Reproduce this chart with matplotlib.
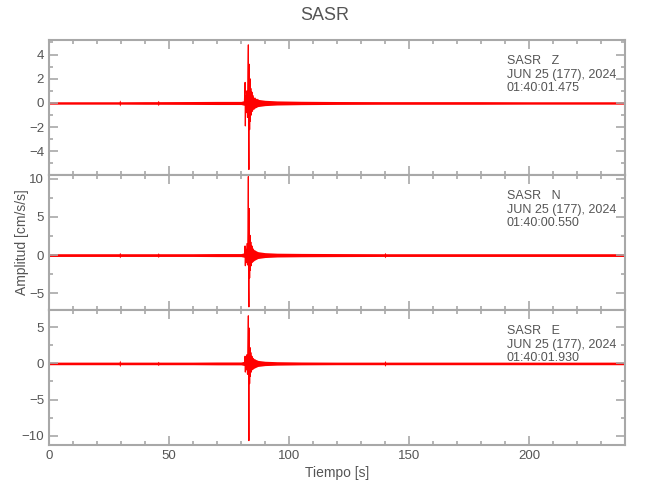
import numpy as np
import matplotlib
matplotlib.use("Agg")
import matplotlib.pyplot as plt
from matplotlib.ticker import MultipleLocator

plt.rcParams['font.family'] = ['Liberation Sans', 'DejaVu Sans']

station = "SASR"
components = ["Z", "N", "E"]
dates = ["JUN 25 (177), 2024"] * 3
start_times = ["01:40:01.475", "01:40:00.550", "01:40:01.930"]

# background noise half-width (cm/s/s)
t_env = [0, 10, 20, 29.2, 29.5, 29.8, 40, 45.2, 45.5, 45.8, 60, 70, 80, 81.5,
         82.5, 84, 85.5, 87, 90, 95, 105, 120, 139.7, 140, 140.3, 160, 180,
         200, 220, 240]
env_z = [0.1, 0.1, 0.1, 0.1, 0.25, 0.1, 0.11, 0.11, 0.22, 0.11, 0.12, 0.13,
         0.13, 0.2, 0.45, 0.7, 0.45, 0.3, 0.22, 0.17, 0.14, 0.12, 0.11, 0.11,
         0.11, 0.11, 0.11, 0.1, 0.1, 0.1]
env_n = [0.18, 0.18, 0.18, 0.18, 0.35, 0.18, 0.18, 0.18, 0.3, 0.18, 0.18,
         0.2, 0.2, 0.3, 0.7, 1.1, 0.7, 0.45, 0.32, 0.25, 0.22, 0.2, 0.18,
         0.35, 0.18, 0.18, 0.18, 0.18, 0.18, 0.18]
env_e = [0.18, 0.18, 0.18, 0.18, 0.45, 0.18, 0.18, 0.18, 0.3, 0.18, 0.18,
         0.2, 0.2, 0.3, 0.7, 1.0, 0.65, 0.42, 0.3, 0.24, 0.2, 0.18, 0.18,
         0.4, 0.18, 0.18, 0.18, 0.18, 0.18, 0.18]

# main arrival, hand-read samples
spk_t = [81.4, 81.7, 81.8, 81.95, 82.2, 82.45, 82.7, 82.9, 83.05, 83.2, 83.3,
         83.45, 83.6, 83.75, 83.9, 84.1, 84.3, 84.55, 84.8, 85.1, 85.5, 85.9,
         86.4, 87.0, 87.8, 88.6]
spk_z = [0.0, 1.7, -1.9, 0.6, -0.8, 1.0, -1.2, 2.5, 4.8, -3.0, -5.5, 3.2,
         -2.2, 2.0, -1.5, 1.2, -1.0, 0.9, -0.7, 0.6, -0.5, 0.4, -0.35, 0.3,
         -0.2, 0.0]
spk_n = [0.0, 1.2, -1.4, 0.8, -1.0, 1.5, -1.3, 3.0, 10.3, -4.0, -6.8, 6.1,
         -3.0, 2.6, -2.0, 1.7, -1.4, 1.2, -0.9, 0.8, -0.6, 0.5, -0.4, 0.3,
         -0.25, 0.0]
spk_e = [0.0, 1.0, -1.2, 0.7, -0.9, 1.2, -1.5, 2.8, 6.6, -4.5, -10.7, 4.9,
         -2.8, 2.2, -1.8, 1.5, -1.2, 1.0, -0.8, 0.7, -0.55, 0.45, -0.35, 0.3,
         -0.2, 0.0]

ylims = [(-5.95, 5.2), (-7.2, 10.5), (-11.3, 7.4)]
ymajor = [2, 5, 5]
yminor = [1, 2.5, 2.5]

gray = '#a8a8a8'
txt = '#555555'

fig = plt.figure(figsize=(6.5, 5), dpi=100)
axes = fig.subplots(3, 1, sharex=True, gridspec_kw={'hspace': 0})
fig.subplots_adjust(left=0.0754, right=0.9615, bottom=0.11, top=0.92)

envs = [env_z, env_n, env_e]
spikes = [spk_z, spk_n, spk_e]
for i, ax in enumerate(axes):
    env = np.array(envs[i])
    ax.fill_between(t_env, -env, env, color='red', lw=0)
    ax.plot(spk_t, spikes[i], color='red', lw=0.8)
    ax.set_xlim(0, 240)
    ax.set_ylim(*ylims[i])
    ax.xaxis.set_major_locator(MultipleLocator(50))
    ax.xaxis.set_minor_locator(MultipleLocator(10))
    ax.yaxis.set_major_locator(MultipleLocator(ymajor[i]))
    ax.yaxis.set_minor_locator(MultipleLocator(yminor[i]))
    ax.tick_params(which='both', direction='in', top=True, right=True,
                   color=gray, labelcolor=txt, labelsize=9.5, width=1.2)
    ax.tick_params(which='major', length=6.5)
    ax.tick_params(which='minor', length=3.2)
    for s in ax.spines.values():
        s.set_color(gray)
        s.set_linewidth(1.5)
    ax.text(0.795, 0.89, f"{station}   {components[i]}\n{dates[i]}\n{start_times[i]}",
            transform=ax.transAxes, ha='left', va='top', fontsize=9,
            color=txt, linespacing=1.2)
    if i < 2:
        ax.tick_params(labelbottom=False)

axes[2].set_xlabel("Tiempo [s]", fontsize=10, color=txt, labelpad=3)
fig.text(0.034, 0.515, "Amplitud [cm/s/s]", rotation=90, ha='center',
         va='center', fontsize=10, color=txt)
fig.suptitle(station, y=0.985, fontsize=13, color=txt)

fig.savefig("out.png", dpi=100)
